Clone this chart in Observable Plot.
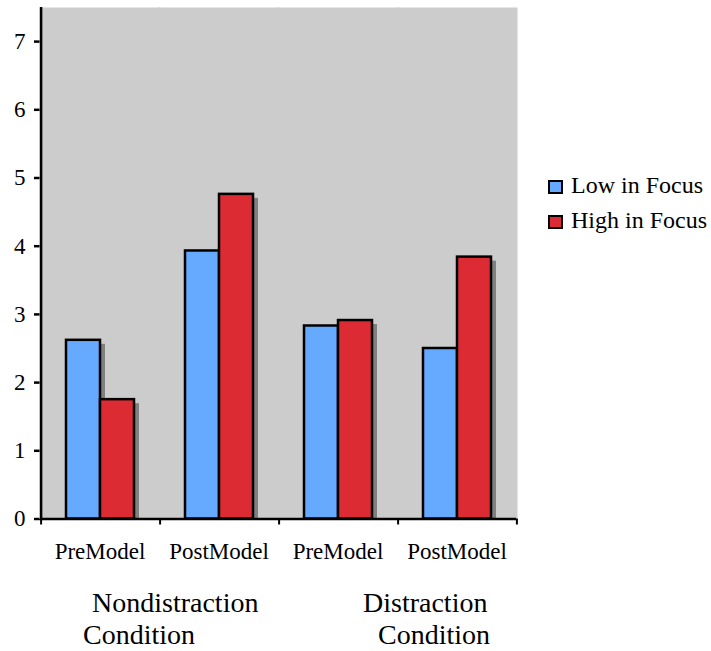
<!DOCTYPE html>
<html>
<head>
<meta charset="utf-8">
<script src="https://cdn.jsdelivr.net/npm/d3@7"></script>
<script src="https://cdn.jsdelivr.net/npm/@observablehq/plot@0.6"></script>
<style>
  body { margin: 0; background: #fff; }
  #wrap { position: relative; width: 711px; height: 651px; font-family: "Liberation Serif", "Times New Roman", serif; color: #000; }
  #chart { position: absolute; left: 0; top: 0; }
  .lg-row { position: absolute; left: 548px; height: 24px; }
  .lg-sw { position: absolute; left: 0; width: 11px; height: 10px; border: 2px solid #000; }
  .lg-tx { position: absolute; left: 23px; font-size: 24px; line-height: 24px; white-space: nowrap; }
  .cond { position: absolute; font-size: 28px; line-height: 28px; white-space: nowrap; }
  #chart svg [aria-label="y-axis tick"] path { stroke-width: 2.5; }
  #chart svg [aria-label="y-axis tick"] { stroke-width: 2.5; }
</style>
</head>
<body>
<div id="wrap">
  <div id="chart"></div>
</div>
<script>
// ---- data ----
const groups = ["Nondistraction PreModel", "Nondistraction PostModel", "Distraction PreModel", "Distraction PostModel"];
const tickLabels = ["PreModel", "PostModel", "PreModel", "PostModel"];
const series = ["Low in Focus", "High in Focus"];
const lowValues = [2.62, 3.93, 2.83, 2.50];
const highValues = [1.75, 4.76, 2.91, 3.84];
const yTicks = [0, 1, 2, 3, 4, 5, 6, 7];
const colors = ["#66aaff", "#dd2b33"];
const conditionLines = [
  ["Nondistraction", "Condition"],
  ["Distraction", "Condition"]
];

const data = groups.flatMap((g, i) => [
  {group: g, series: series[0], value: lowValues[i]},
  {group: g, series: series[1], value: highValues[i]}
]);
const labelOf = new Map(groups.map((g, i) => [g, tickLabels[i]]));

// half band + outer padding, in pixels (facet edge offset from first/last bar centre)
const edge = 42.4;

const chart = Plot.plot({
  width: 521,
  height: 575,
  marginLeft: 38,
  marginRight: 4,
  marginTop: 7,
  marginBottom: 56.5,
  style: {fontFamily: "'Liberation Serif', 'Times New Roman', serif", fontSize: "23px", background: "transparent", overflow: "visible"},
  fx: {domain: groups, padding: 0, label: null, axis: "bottom", tickSize: 0, tickPadding: 24, tickFormat: d => labelOf.get(d), fontSize: 24},
  x: {domain: series, paddingInner: 0, paddingOuter: 0.7107, axis: null},
  y: {domain: [0, 7.5], ticks: yTicks, tickSize: 6, tickPadding: 9, label: null, tickFormat: "d"},
  color: {domain: series, range: colors},
  marks: [
    Plot.frame({fill: "#cccccc", stroke: "none", insetLeft: -1, insetRight: -1}),
    Plot.barY(data, {fx: "group", x: "series", y: "value", fill: "#808080", dx: 5, dy: 4, clip: true}),
    Plot.barY(data, {fx: "group", x: "series", y: "value", fill: "series", stroke: "#000", strokeWidth: 2.5}),
    // y axis line (left edge of first facet)
    Plot.ruleX([{group: groups[0], series: series[0]}], {fx: "group", x: "series", dx: -edge, stroke: "#000", strokeWidth: 2.5}),
    // x axis line
    Plot.ruleY([0], {stroke: "#000", strokeWidth: 2.5}),
    // boundary ticks on x axis
    Plot.ruleX(groups.map(g => ({group: g, series: series[0]})), {fx: "group", x: "series", dx: -edge, y1: 0, y2: -0.088, stroke: "#000", strokeWidth: 2}),
    Plot.ruleX([{group: groups[3], series: series[1]}], {fx: "group", x: "series", dx: edge, y1: 0, y2: -0.088, stroke: "#000", strokeWidth: 2})
  ]
});
document.getElementById("chart").appendChild(chart);

// legend
const wrap = document.getElementById("wrap");
const legendTops = [172.5, 207.5];
series.forEach((s, i) => {
  const row = document.createElement("div");
  row.className = "lg-row";
  row.style.top = legendTops[i] + "px";
  const sw = document.createElement("div");
  sw.className = "lg-sw";
  sw.style.background = colors[i];
  sw.style.top = "7.5px";
  const tx = document.createElement("div");
  tx.className = "lg-tx";
  tx.style.top = "0px";
  tx.textContent = s;
  row.appendChild(sw);
  row.appendChild(tx);
  wrap.appendChild(row);
});

// condition labels
const condPos = [
  [[92, 588.6], [83, 620.6]],
  [[363, 588.6], [378, 620.6]]
];
conditionLines.forEach((lines, i) => {
  lines.forEach((t, j) => {
    const d = document.createElement("div");
    d.className = "cond";
    d.style.left = condPos[i][j][0] + "px";
    d.style.top = condPos[i][j][1] + "px";
    d.textContent = t;
    wrap.appendChild(d);
  });
});
</script>
</body>
</html>
